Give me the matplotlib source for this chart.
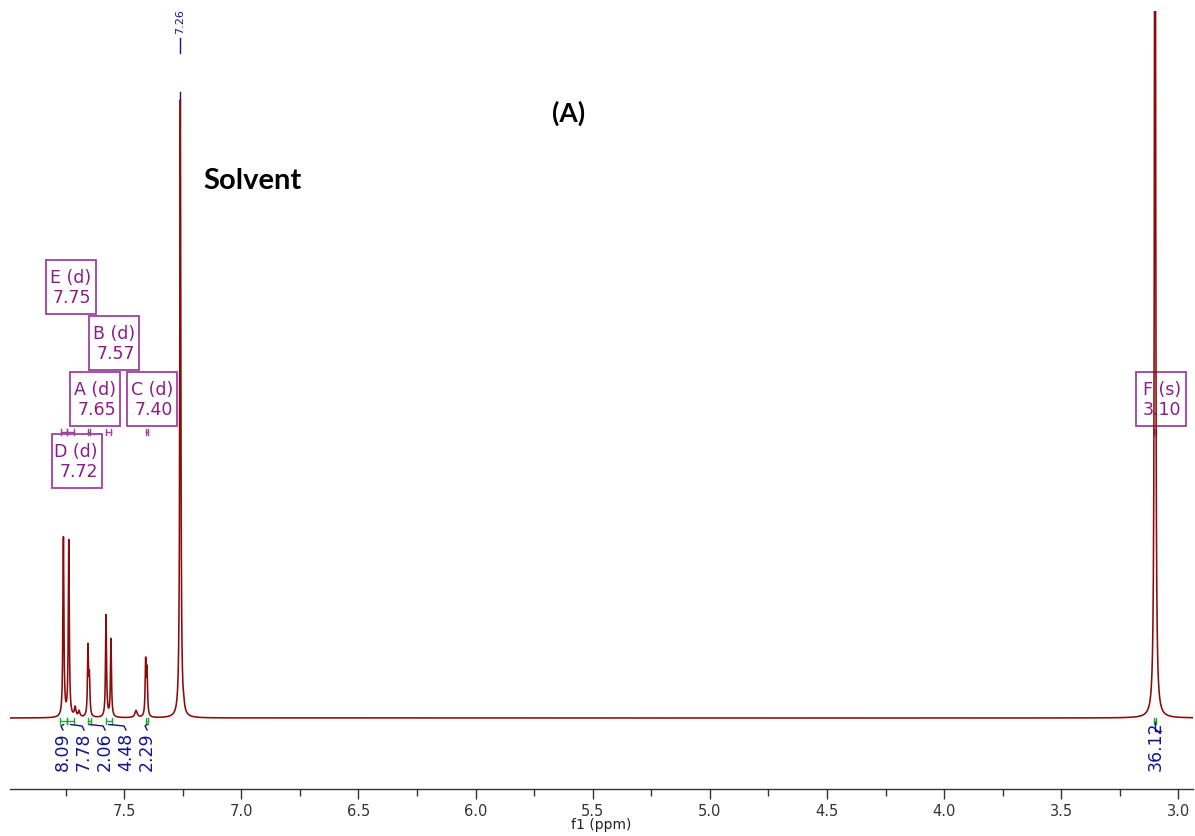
import numpy as np
import matplotlib
matplotlib.use('Agg')
import matplotlib.pyplot as plt
from matplotlib.patches import Rectangle

# ---------------- data ----------------
peak_ppm = [7.759, 7.736, 7.709, 7.692, 7.654, 7.648, 7.577, 7.556, 7.449,
            7.408, 7.402, 7.260, 7.245, 3.100]
peak_height = [179, 176, 9.5, 6, 68.5, 37, 102, 78, 7,
               54, 44.5, 618, 4, 1300]
peak_hwhm = [0.0025, 0.0025, 0.004, 0.004, 0.0025, 0.0025, 0.0025, 0.0025, 0.006,
             0.0025, 0.0025, 0.0026, 0.003, 0.0025]

int_values = ['8.09', '7.78', '2.06', '4.48', '2.29', '36.12']
int_from = [7.773, 7.745, 7.653, 7.578, 7.406, 3.104]
int_to = [7.744, 7.712, 7.642, 7.553, 7.398, 3.096]
int_label_ppm = [7.761, 7.671, 7.581, 7.492, 7.402, 3.097]

mult_names = ['E', 'B', 'A', 'C', 'D', 'F']
mult_kind = ['d', 'd', 'd', 'd', 'd', 's']
mult_shift = ['7.75', '7.57', '7.65', '7.40', '7.72', '3.10']
mult_from = [7.770, 7.742, 7.653, 7.577, 7.406, 3.104]
mult_to = [7.742, 7.712, 7.645, 7.556, 7.399, 3.096]

x_ticks = [7.5, 7.0, 6.5, 6.0, 5.5, 5.0, 4.5, 4.0, 3.5, 3.0]
x_tick_labels = ['7.5', '7.0', '6.5', '6.0', '5.5', '5.0', '4.5', '4.0', '3.5', '3.0']

# ---------------- layout ----------------
W, H = 1195, 836
PPM_PER_PX = 1 / 234.3
XL, XR = 7.987, 2.938
Y0 = 718  # baseline pixel row


def yd(py):
    """pixel row -> data value (data units = pixels above baseline)"""
    return Y0 - py


fig = plt.figure(figsize=(W / 100, H / 100), dpi=100)
ax = fig.add_axes([10 / W, 47 / H, 1183 / W, 778 / H])
ax.set_xlim(XL, XR)
ax.set_ylim(-71, 707)

# spectrum
x = np.arange(XR, XL, 0.0002)
y = np.zeros_like(x)
for p, h, g in zip(peak_ppm, peak_height, peak_hwhm):
    y += h * g ** 2 / ((x - p) ** 2 + g ** 2)
ax.plot(x, y, color='#8B0A0A', lw=1.15, zorder=5)

navy = '#14148C'
green = '#22AA22'
purple = '#8B1A8B'

# integrals
for f, t, lab, lx in zip(int_from, int_to, int_values, int_label_ppm):
    by = yd(721)
    ax.plot([f, t], [by, by], color=green, lw=1.0, zorder=4)
    for e in (f, t):
        ax.plot([e, e], [yd(718), yd(724)], color=green, lw=1.0, zorder=4)
    bc = (f + t) / 2
    if lab == '36.12':
        ax.plot([bc, bc, bc - 6 * PPM_PER_PX], [yd(722), yd(731), yd(731)],
                color=navy, lw=1.0, zorder=4)
    else:
        ax.plot([bc, lx + 2 * PPM_PER_PX, lx], [yd(724.5), yd(726), yd(730)],
                color=navy, lw=1.0, zorder=4)
    ax.text(lx, yd(771), lab, rotation=90, ha='center', va='bottom',
            fontsize=12.5, color=navy, family='DejaVu Sans', zorder=6)

# multiplet boxes
box_cx = [70.5, 113.7, 95.2, 152.2, 76.9, 1160.5]
box_cy = [287, 343, 399, 399, 461, 399]
bw, bh = 50, 54
for name, kind, sh, cx, cy in zip(mult_names, mult_kind, mult_shift, box_cx, box_cy):
    cppm = 7.26 - (cx - 180.3) * PPM_PER_PX
    left = cppm + bw / 2 * PPM_PER_PX
    rect = Rectangle((left, yd(cy + bh / 2)), -bw * PPM_PER_PX, bh,
                     fill=False, edgecolor='#A040A0', lw=1.3, zorder=3)
    ax.add_patch(rect)
    ax.text(cppm - (bw / 2 - 4) * PPM_PER_PX, yd(cy + 1), f'{name} ({kind})\n{sh}',
            ha='right', va='center', multialignment='right', fontsize=12.5,
            color=purple, linespacing=1.1, zorder=3)

# multiplet range marks
for f, t in zip(mult_from, mult_to):
    my = yd(431.7)
    ax.plot([f, t], [my, my], color='#A040A0', lw=1.0, zorder=3)
    for e in (f, t):
        ax.plot([e, e], [yd(428.7), yd(434.7)], color='#A040A0', lw=1.0, zorder=3)

# peak label 7.26
ax.text(7.26, yd(34), '7.26', rotation=90, ha='center', va='bottom',
        fontsize=8, color=navy, zorder=6)
ax.plot([7.26, 7.26], [yd(38), yd(53)], color=navy, lw=1.0, zorder=6)
ax.plot([7.26, 7.26], [yd(92), yd(99)], color=navy, lw=1.0, zorder=6)

# annotations
ax.text(5.602, yd(113), '(A)', ha='center', va='center', fontsize=19,
        fontweight='bold', family='Lato', color='black')
ax.text(7.163, yd(181), 'Solvent', ha='left', va='center', fontsize=21,
        fontweight='bold', family='Lato', color='black')

# axes styling
for s in ['left', 'right', 'top']:
    ax.spines[s].set_visible(False)
ax.spines['bottom'].set_color('#333333')
ax.spines['bottom'].set_linewidth(1.0)
ax.set_yticks([])
ax.set_xticks(x_ticks)
ax.set_xticklabels(x_tick_labels)
ax.set_xticks([7.75, 7.25, 6.75, 6.25, 5.75, 5.25, 4.75, 4.25, 3.75, 3.25], minor=True)
ax.tick_params(axis='x', which='major', length=7, width=1, direction='out',
               labelsize=10.5, pad=4, colors='#333333')
ax.tick_params(axis='x', which='minor', length=5, width=1, direction='out',
               colors='#333333')
ax.set_xlabel('f1 (ppm)', fontsize=10, labelpad=-1, color='#222222')
ax.set_facecolor('white')

fig.savefig('out.png', dpi=100)
